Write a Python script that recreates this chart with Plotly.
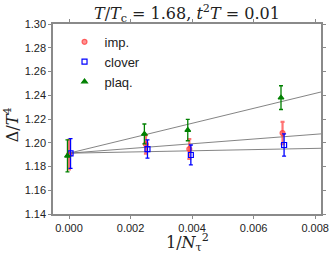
import plotly.graph_objects as go

# data: 1/N_tau^2, Delta/T^4, errors
x_pts = [0.0, 0.00250, 0.00391, 0.00694]
imp_y = [1.190, 1.1987, 1.1947, 1.2082]
imp_err = [0.0125, 0.0078, 0.0084, 0.0093]
clover_y = [1.191, 1.1947, 1.1897, 1.1981]
clover_err = [0.0125, 0.0077, 0.0084, 0.0094]
plaq_y = [1.189, 1.2074, 1.2107, 1.2380]
plaq_err = [0.0135, 0.0084, 0.0090, 0.0100]

# continuum fit lines (endpoints)
fit_x = [0.0, 0.0085]
fit_imp = [1.1912, 1.2081]
fit_clover = [1.1912, 1.1955]
fit_plaq = [1.1912, 1.2447]

x_offset = {"imp.": 0.0, "clover": 0.00005, "plaq.": -0.00005}

fig = go.Figure()

for fy in [fit_plaq, fit_imp, fit_clover]:
    fig.add_trace(go.Scatter(x=fit_x, y=fy, mode="lines",
                             line=dict(color="rgba(110,110,110,0.85)", width=1),
                             showlegend=False, hoverinfo="skip"))

series = [
    ("imp.", imp_y, imp_err, "rgba(255,40,40,0.65)", "circle", "rgba(255,60,60,0.55)", 2.2),
    ("clover", clover_y, clover_err, "rgb(0,0,255)", "square-open", "rgb(0,0,255)", 1.3),
    ("plaq.", plaq_y, plaq_err, "rgb(0,128,0)", "triangle-up", "rgb(0,128,0)", 1.3),
]
for name, ys, errs, col, sym, mcol, ew in series:
    xs = [v + x_offset[name] for v in x_pts]
    fig.add_trace(go.Scatter(
        x=xs, y=ys, mode="markers", name=name,
        marker=dict(symbol=sym, size=5, color=mcol,
                    line=dict(color=col, width=1.2)),
        error_y=dict(type="data", array=errs, visible=True, color=col,
                     thickness=ew, width=2),
    ))

axis_common = dict(showline=True, linecolor="#8a8a8a", linewidth=1.5, mirror="ticks",
                   ticks="outside", ticklen=3, tickcolor="#8a8a8a", showgrid=False,
                   zeroline=False, automargin=False,
                   tickfont=dict(family="Liberation Sans, Arial", size=11, color="#222"))

serif = dict(family="DejaVu Serif", size=16, color="#222")

fig.update_layout(
    width=332, height=255,
    margin=dict(l=53, r=11, t=24, b=41),
    plot_bgcolor="white", paper_bgcolor="white",
    xaxis=dict(range=[-0.00052, 0.00819], tickvals=[0, 0.002, 0.004, 0.006, 0.008],
               tickformat=".3f", **axis_common),
    yaxis=dict(range=[1.14, 1.30], dtick=0.02, tickformat=".2f", **axis_common),
    legend=dict(x=0.043, y=0.985, xanchor="left", yanchor="top",
                bgcolor="rgba(0,0,0,0)", font=dict(family="Liberation Sans, Arial", size=13, color="#222"),
                itemwidth=30, tracegroupgap=2),
    annotations=[
        dict(text="<i>T</i>/<i>T</i><sub>c</sub> = 1.68, <i>t</i><sup>2</sup><i>T</i> = 0.01",
             xref="paper", yref="paper", x=0.5, y=1.0, xanchor="center", yanchor="bottom",
             yshift=-3, showarrow=False, font=serif),
        dict(text="1/<i>N</i><sub>τ</sub><sup>2</sup>", xref="paper", yref="paper",
             x=0.5, y=0, xanchor="center", yanchor="top", yshift=-15,
             showarrow=False, font=serif),
        dict(text="Δ/<i>T</i><sup>4</sup>", xref="paper", yref="paper", textangle=-90,
             x=0, y=0.47, xanchor="right", yanchor="middle", xshift=-29,
             showarrow=False, font=serif),
    ],
)

fig.write_html("out.html", config={"displayModeBar": False},
               post_script="document.body.style.margin='0';")
